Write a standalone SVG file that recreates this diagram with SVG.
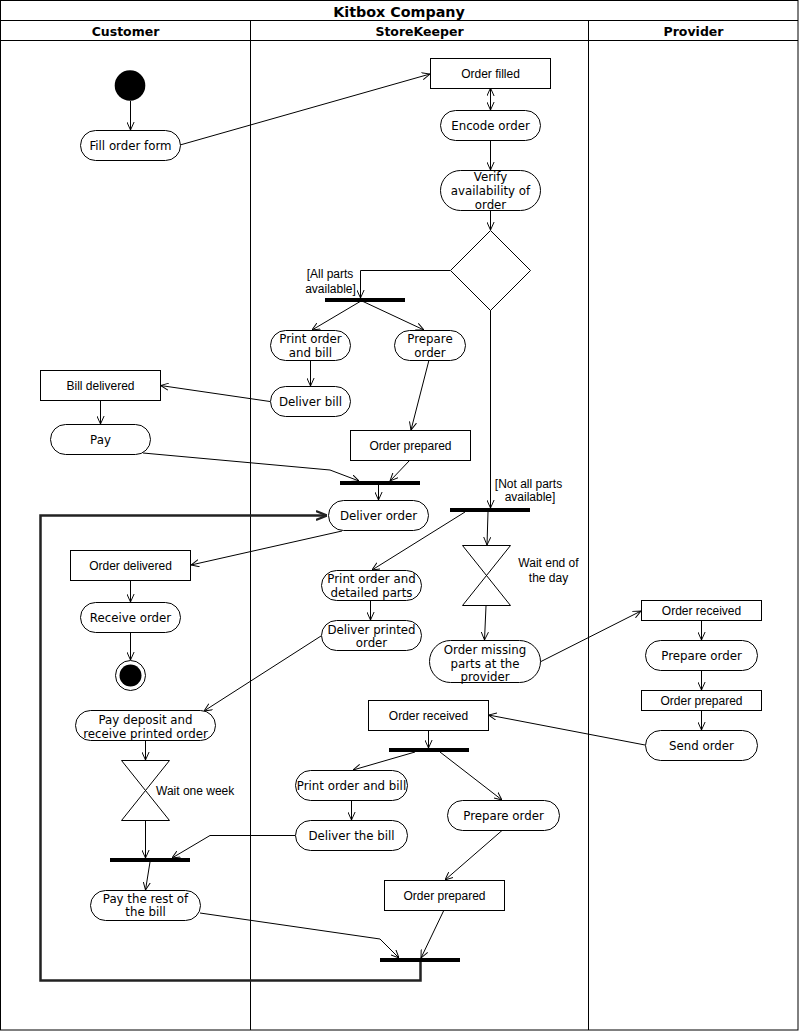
<svg xmlns="http://www.w3.org/2000/svg" width="799" height="1031" viewBox="0 0 799 1031">
<defs>
<style>
.frame{fill:none;stroke:#000;stroke-width:1}
.act{fill:#fff;stroke:#000;stroke-width:1}
.obj{fill:#fff;stroke:#000;stroke-width:1}
.bar{fill:#000}
.t{font-family:"DejaVu Sans",Verdana,sans-serif;font-size:11.8px;text-anchor:middle;fill:#000}
.r{font-family:"Liberation Sans",Arial,sans-serif;font-size:12px;text-anchor:middle;fill:#000}
.h{font-family:"DejaVu Sans",Verdana,sans-serif;font-weight:bold;text-anchor:middle;fill:#000}
.c{fill:none;stroke:#000;stroke-width:1;marker-end:url(#a)}
.loop{fill:none;stroke:#222;stroke-width:2.5;marker-end:url(#b)}
</style>
<marker id="a" viewBox="0 0 10 10" refX="10" refY="5" markerWidth="8" markerHeight="8" markerUnits="userSpaceOnUse" orient="auto-start-reverse">
<path d="M0,0.5 L10,5 L0,9.5" fill="none" stroke="#000" stroke-width="1.2"/>
</marker>
<marker id="b" viewBox="0 0 10 10" refX="10" refY="5" markerWidth="11" markerHeight="11" markerUnits="userSpaceOnUse" orient="auto">
<path d="M0,1 L10,5 L0,9" fill="none" stroke="#222" stroke-width="2"/>
</marker>
</defs>
<rect width="799" height="1031" fill="#fff"/>
<g id="pool">
<rect class="frame" x="0.5" y="0.5" width="797.5" height="1029.5"/>
<line class="frame" x1="0" y1="20.5" x2="798" y2="20.5"/>
<line class="frame" x1="0" y1="40.5" x2="798" y2="40.5"/>
<line class="frame" x1="250.5" y1="20.5" x2="250.5" y2="1030"/>
<line class="frame" x1="588.5" y1="20.5" x2="588.5" y2="1030"/>
<text class="h" x="399" y="17" font-size="14.3px">Kitbox Company</text>
<text class="h" x="125.5" y="35.5" font-size="12.5px">Customer</text>
<text class="h" x="419.5" y="35.5" font-size="12.5px">StoreKeeper</text>
<text class="h" x="693.5" y="35.5" font-size="12.5px">Provider</text>
</g>
<g id="connectors">
<path class="c" d="M130.5,101 V130"/>
<path class="c" d="M180,145 L430,74"/>
<path class="c" d="M490.5,88 V110" marker-start="url(#a)"/>
<path class="c" d="M490.5,140 V170"/>
<path class="c" d="M490.5,210 V230"/>
<path class="c" d="M450,270.5 H360.5 V298"/>
<path class="c" d="M490.5,310 V508"/>
<path class="c" d="M361,301 L312,330"/>
<path class="c" d="M362,301 L424,330"/>
<path class="c" d="M310.5,360 V386"/>
<path class="c" d="M270,401.5 L160.5,385.5"/>
<path class="c" d="M100.5,400 V424"/>
<path class="c" d="M143,453 L330,470 L359,481"/>
<path class="c" d="M429,360 L411,430"/>
<path class="c" d="M410,460 L390,481"/>
<path class="c" d="M378.5,485 V500"/>
<path class="loop" d="M420.5,962 V980.5 H40.5 V515.5 H327"/>
<path class="c" d="M342,531 L191,565"/>
<path class="c" d="M130.5,580 V602"/>
<path class="c" d="M130.5,632 V660"/>
<path class="c" d="M465,512 L372,570"/>
<path class="c" d="M488,512 L487,545"/>
<path class="c" d="M486,606 L484.5,640"/>
<path class="c" d="M370.5,600 V620"/>
<path class="c" d="M321,636 L204,711"/>
<path class="c" d="M145.5,740 V760"/>
<path class="c" d="M145.5,820 V858"/>
<path class="c" d="M295,835.5 H210 L172,858"/>
<path class="c" d="M150,862 L145.5,890"/>
<path class="c" d="M200,913 L380,939 L399,958"/>
<path class="c" d="M540,662 L641,611"/>
<path class="c" d="M701.5,620 V640"/>
<path class="c" d="M701.5,670 V690"/>
<path class="c" d="M701.5,710 V730"/>
<path class="c" d="M645,745 L488.5,715"/>
<path class="c" d="M428.5,730 V748"/>
<path class="c" d="M415,752 L353,770"/>
<path class="c" d="M440,752 L502,800"/>
<path class="c" d="M502,830.5 L445,880"/>
<path class="c" d="M351.5,800 V820"/>
<path class="c" d="M444,910 L421,958"/>
</g>
<g id="n-initial"><circle cx="130" cy="85.5" r="15.3" fill="#000"/></g>
<g id="n-fill"><rect class="act" x="80.5" y="130.5" width="100" height="30" rx="15"/><text class="t" x="130.5" y="149.5">Fill order form</text></g>
<g id="n-orderfilled"><rect class="obj" x="430.5" y="58.5" width="120" height="30"/><text class="r" x="490.5" y="78">Order filled</text></g>
<g id="n-encode"><rect class="act" x="440.5" y="110.5" width="100" height="30" rx="15"/><text class="t" x="490.5" y="129.5">Encode order</text></g>
<g id="n-verify"><rect class="act" x="440.5" y="170.5" width="100" height="40" rx="20"/><text class="t" x="490.5" y="181">Verify</text><text class="t" x="490.5" y="195">availability of</text><text class="t" x="490.5" y="208.5">order</text></g>
<g id="n-decision"><polygon class="act" points="490.5,230.5 530.5,270.5 490.5,310.5 450.5,270.5"/></g>
<g id="n-label-all"><text class="r" x="330" y="278">[All parts</text><text class="r" x="330.5" y="293">available]</text></g>
<g id="n-fork1"><rect class="bar" x="325" y="298" width="80" height="4"/></g>
<g id="n-printbill1"><rect class="act" x="270.5" y="330.5" width="80" height="30" rx="15"/><text class="t" x="310.5" y="343">Print order</text><text class="t" x="310.5" y="356.5">and bill</text></g>
<g id="n-prepare1"><rect class="act" x="394.5" y="330.5" width="71" height="30" rx="15"/><text class="t" x="430" y="343">Prepare</text><text class="t" x="430" y="356.5">order</text></g>
<g id="n-deliverbill"><rect class="act" x="270.5" y="386.5" width="80" height="30" rx="15"/><text class="t" x="310.5" y="405.5">Deliver bill</text></g>
<g id="n-billdelivered"><rect class="obj" x="40.5" y="370.5" width="120" height="30"/><text class="r" x="100.5" y="390">Bill delivered</text></g>
<g id="n-pay"><rect class="act" x="50.5" y="424.5" width="100" height="30" rx="15"/><text class="t" x="100.5" y="443.5">Pay</text></g>
<g id="n-orderprepared1"><rect class="obj" x="350.5" y="430.5" width="120" height="30"/><text class="r" x="410.5" y="450">Order prepared</text></g>
<g id="n-join1"><rect class="bar" x="340" y="481" width="80" height="4"/></g>
<g id="n-deliverorder"><rect class="act" x="328.5" y="500.5" width="100" height="30" rx="15"/><text class="t" x="378.5" y="519.5">Deliver order</text></g>
<g id="n-label-notall"><text class="r" x="528.5" y="487.5">[Not all parts</text><text class="r" x="530" y="501">available]</text></g>
<g id="n-fork2"><rect class="bar" x="450" y="508" width="80" height="4"/></g>
<g id="n-printdetailed"><rect class="act" x="321.5" y="570.5" width="100" height="30" rx="15"/><text class="t" x="371.5" y="582.5">Print order and</text><text class="t" x="371.5" y="596.5">detailed parts</text></g>
<g id="n-deliverprinted"><rect class="act" x="321.5" y="620.5" width="100" height="30" rx="15"/><text class="t" x="371.5" y="633.5">Deliver printed</text><text class="t" x="371.5" y="647">order</text></g>
<g id="n-waitday"><path class="act" d="M462.5,545.5 L510.5,545.5 L462.5,605.5 L510.5,605.5 Z"/><text class="r" x="548.5" y="567">Wait end of</text><text class="r" x="548.5" y="581.5">the day</text></g>
<g id="n-ordermissing"><rect class="act" x="429.5" y="640.5" width="111" height="42" rx="21"/><text class="t" x="485" y="654">Order missing</text><text class="t" x="485" y="667.5">parts at the</text><text class="t" x="485" y="681">provider</text></g>
<g id="n-orderdelivered"><rect class="obj" x="70.5" y="550.5" width="120" height="30"/><text class="r" x="130.5" y="570">Order delivered</text></g>
<g id="n-receiveorder"><rect class="act" x="80.5" y="602.5" width="100" height="30" rx="15"/><text class="t" x="130.5" y="621.5">Receive order</text></g>
<g id="n-final"><circle cx="130.5" cy="675.5" r="15" fill="#fff" stroke="#000"/><circle cx="130.5" cy="675.5" r="11" fill="#000"/></g>
<g id="n-paydeposit"><rect class="act" x="75.5" y="710.5" width="140" height="30" rx="15"/><text class="t" x="145.5" y="723.5">Pay deposit and</text><text class="t" x="145.5" y="737.5">receive printed order</text></g>
<g id="n-waitweek"><path class="act" d="M121.5,760.5 L169.5,760.5 L121.5,820.5 L169.5,820.5 Z"/><text class="r" x="156" y="794.5" style="text-anchor:start">Wait one week</text></g>
<g id="n-join2"><rect class="bar" x="110" y="858" width="80" height="4"/></g>
<g id="n-payrest"><rect class="act" x="90.5" y="890.5" width="110" height="30" rx="15"/><text class="t" x="145.5" y="902.5">Pay the rest of</text><text class="t" x="145.5" y="916">the bill</text></g>
<g id="n-orderreceived-sk"><rect class="obj" x="368.5" y="700.5" width="120" height="30"/><text class="r" x="428.5" y="720">Order received</text></g>
<g id="n-fork3"><rect class="bar" x="389" y="748" width="80" height="4"/></g>
<g id="n-printbill2"><rect class="act" x="295.5" y="770.5" width="112" height="30" rx="15"/><text class="t" x="351.5" y="789.5">Print order and bill</text></g>
<g id="n-deliverthebill"><rect class="act" x="295.5" y="820.5" width="112" height="30" rx="15"/><text class="t" x="351.5" y="839.5">Deliver the bill</text></g>
<g id="n-prepare2"><rect class="act" x="447.5" y="800.5" width="112" height="30" rx="15"/><text class="t" x="503.5" y="819.5">Prepare order</text></g>
<g id="n-orderprepared2"><rect class="obj" x="384.5" y="880.5" width="120" height="30"/><text class="r" x="444.5" y="900">Order prepared</text></g>
<g id="n-join3"><rect class="bar" x="380" y="958" width="80" height="4"/></g>
<g id="n-orderreceived-pr"><rect class="obj" x="641.5" y="600.5" width="120" height="20"/><text class="r" x="701.5" y="615">Order received</text></g>
<g id="n-prepare-pr"><rect class="act" x="645.5" y="640.5" width="112" height="30" rx="15"/><text class="t" x="701.5" y="659.5">Prepare order</text></g>
<g id="n-orderprepared-pr"><rect class="obj" x="641.5" y="690.5" width="120" height="20"/><text class="r" x="701.5" y="705">Order prepared</text></g>
<g id="n-sendorder"><rect class="act" x="645.5" y="730.5" width="112" height="30" rx="15"/><text class="t" x="701.5" y="749.5">Send order</text></g>
</svg>
